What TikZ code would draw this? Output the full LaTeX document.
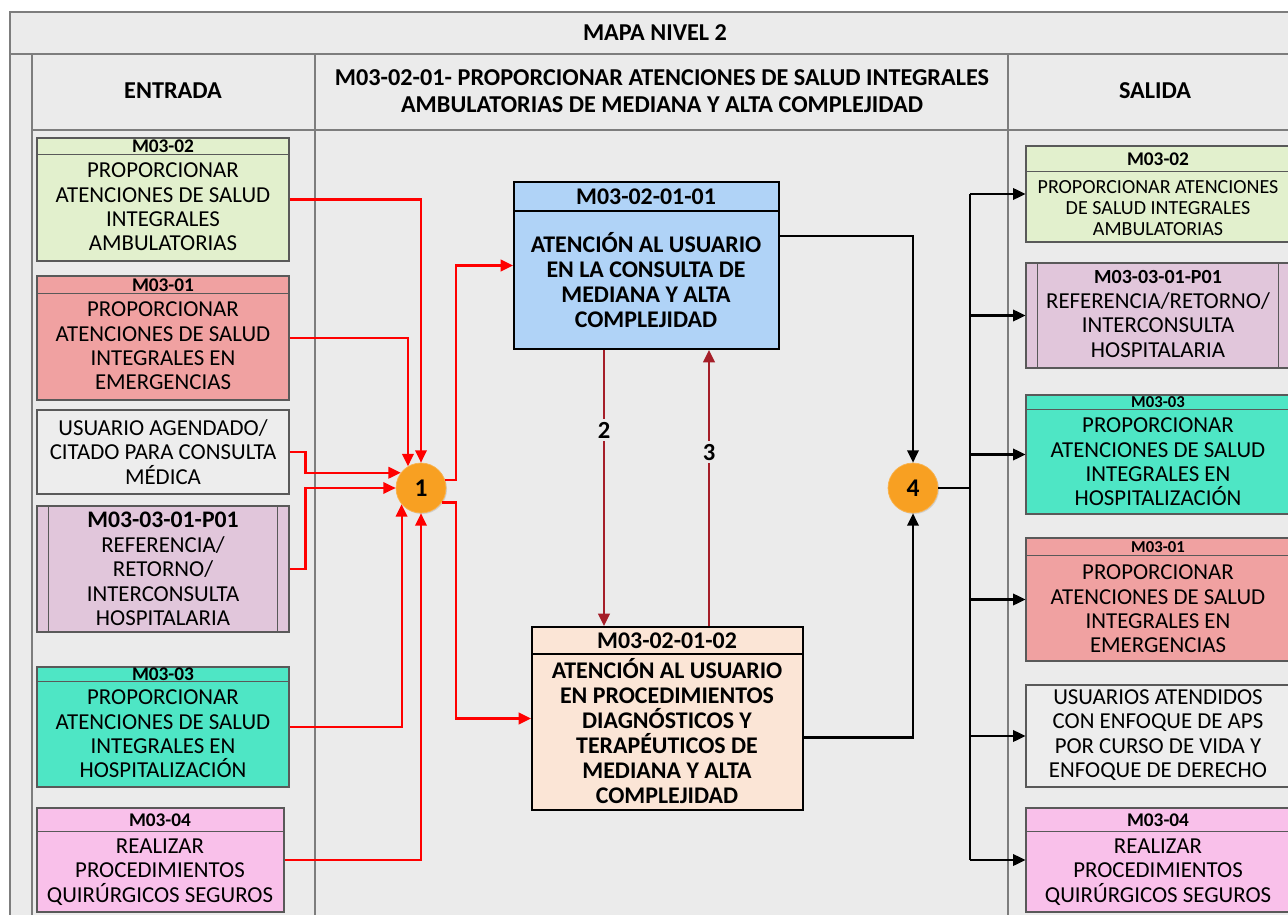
\documentclass[tikz,border=0pt]{standalone}
\usepackage{fontspec}
\setmainfont{Carlito}
\usetikzlibrary{arrows.meta,positioning,calc,fit,shadows}
\definecolor{bgray}{RGB}{235,235,235}
\definecolor{cframe}{RGB}{125,125,125}
\definecolor{cgreen}{RGB}{226,240,205}
\definecolor{cred}{RGB}{240,161,161}
\definecolor{cgrey}{RGB}{237,237,237}
\definecolor{cpurple}{RGB}{225,198,219}
\definecolor{cteal}{RGB}{78,230,197}
\definecolor{cpink}{RGB}{249,192,234}
\definecolor{cblue}{RGB}{176,211,247}
\definecolor{cpeach}{RGB}{251,229,214}
\definecolor{corange}{RGB}{248,160,34}
\definecolor{cbrown}{RGB}{165,30,40}
\tikzset{
  frame/.style = { draw=cframe, line width=0.6pt },
  box/.style   = { draw=black!65, line width=0.6pt, inner sep=0pt,
    drop shadow={shadow xshift=0.8pt,shadow yshift=-0.8pt,opacity=0.3} },
  pbox/.style  = { draw=black, line width=1.1pt, inner sep=0pt,
    drop shadow={shadow xshift=0.8pt,shadow yshift=-0.8pt,opacity=0.3} },
  sep/.style   = { draw=black!65, line width=0.6pt },
  title/.style = { align=center, inner sep=0pt, font=\fontsize{13.8}{15}\selectfont\bfseries },
  hdr/.style   = { inner sep=0pt, font=\fontsize{11}{12}\selectfont\bfseries },
  shdr/.style  = { inner sep=0pt, font=\fontsize{9.5}{10}\selectfont\bfseries },
  txt/.style   = { align=center, inner sep=0pt, font=\fontsize{13}{13.9}\selectfont },
  stxt/.style  = { align=center, inner sep=0pt, font=\fontsize{11.4}{12}\selectfont },
  btxt/.style  = { align=center, inner sep=0pt, font=\fontsize{13.6}{14.2}\selectfont\bfseries },
  junc/.style  = { circle, fill=corange, draw=corange!80!white, minimum size=1cm, inner sep=0pt,
    font=\fontsize{14.5}{14.5}\selectfont\bfseries,
    drop shadow={shadow xshift=0.6pt,shadow yshift=-0.6pt,opacity=0.25} },
  num/.style   = { fill=bgray, inner sep=1.5pt, font=\fontsize{14}{14}\selectfont\bfseries },
  rarr/.style  = { draw=red, line width=1.2pt, -{Triangle[length=7pt,width=6.5pt]} },
  barr/.style  = { draw=cbrown, line width=1.2pt, -{Triangle[length=7pt,width=6.5pt]} },
  karr/.style  = { draw=black, line width=1.2pt, -{Triangle[length=7pt,width=6.5pt]} },
  bus/.style   = { draw=black, line width=1.6pt }
}
\begin{document}
\begin{tikzpicture}[x=0.02cm,y=-0.02cm]
  \useasboundingbox (0,0) rectangle (1288,915);
  \clip (0,0) rectangle (1288,915);
  % tabla
  \draw[frame, fill=bgray] (10,12) rectangle (1310,940);
  \draw[frame] (10,54) -- (1310,54);
  \draw[frame, line width=1.2pt] (32,130) -- (1310,130);
  \draw[frame] (32,54) -- (32,940);
  \draw[frame] (315,54) -- (315,940);
  \draw[frame] (1008,54) -- (1008,940);
  \node[title] (mapa) at (655,33) {MAPA NIVEL 2};
  \node[title] (hin) at (173,91) {ENTRADA};
  \node[title] (hproc) at (662,91) {M03-02-01- PROPORCIONAR ATENCIONES DE SALUD INTEGRALES\\AMBULATORIAS DE MEDIANA Y ALTA COMPLEJIDAD};
  \node[title] (hout) at (1155,91) {SALIDA};

  % entradas
  \node[box, fill=cgreen, fit={(37,138) (289,261)}] (e1) {};
  \draw[sep] ($(e1.north west)+(0,17)$) -- ($(e1.north east)+(0,17)$);
  \node[hdr] at (163,146) {M03-02};
  \node[txt] at (163,207) {PROPORCIONAR\\ATENCIONES DE SALUD\\INTEGRALES\\AMBULATORIAS};

  \node[box, fill=cred, fit={(37,276) (289,400)}] (e2) {};
  \draw[sep] ($(e2.north west)+(0,18)$) -- ($(e2.north east)+(0,18)$);
  \node[hdr] at (163,285) {M03-01};
  \node[txt] at (163,346) {PROPORCIONAR\\ATENCIONES DE SALUD\\INTEGRALES EN\\EMERGENCIAS};

  \node[box, fill=cgrey, fit={(37,410) (289,494)}] (e3) {};
  \node[txt] at (163,452) {USUARIO AGENDADO/\\CITADO PARA CONSULTA\\MÉDICA};

  \node[box, fill=cpurple, fit={(37,506) (289,632)}] (e4) {};
  \draw[sep] ($(e4.north west)+(12,0)$) -- ($(e4.south west)+(12,0)$);
  \draw[sep] ($(e4.north east)+(-12,0)$) -- ($(e4.south east)+(-12,0)$);
  \node[txt] at (163,569) {{\fontsize{13.5}{13.9}\selectfont\bfseries M03-03-01-P01}\\REFERENCIA/\\RETORNO/\\INTERCONSULTA\\HOSPITALARIA};

  \node[box, fill=cteal, fit={(37,667) (289,787)}] (e5) {};
  \draw[sep] ($(e5.north west)+(0,15)$) -- ($(e5.north east)+(0,15)$);
  \node[hdr] at (163,674) {M03-03};
  \node[txt] at (163,734) {PROPORCIONAR\\ATENCIONES DE SALUD\\INTEGRALES EN\\HOSPITALIZACIÓN};

  \node[box, fill=cpink, fit={(37,808) (284,912)}] (e6) {};
  \draw[sep] ($(e6.north west)+(0,24)$) -- ($(e6.north east)+(0,24)$);
  \node[hdr] at (160,820) {M03-04};
  \node[txt] at (160,872) {REALIZAR\\PROCEDIMIENTOS\\QUIRÚRGICOS SEGUROS};

  % subprocesos
  \node[pbox, fill=cblue, fit={(514,182) (779,349)}] (A) {};
  \draw[black, line width=1.1pt] ($(A.north west)+(0,30)$) -- ($(A.north east)+(0,30)$);
  \node[btxt] at (646,197) {M03-02-01-01};
  \node[btxt] at (646,280) {ATENCIÓN AL USUARIO\\EN LA CONSULTA DE\\MEDIANA Y ALTA\\COMPLEJIDAD};

  \node[pbox, fill=cpeach, fit={(532,627) (803,810)}] (B) {};
  \draw[black, line width=1.1pt] ($(B.north west)+(0,28)$) -- ($(B.north east)+(0,28)$);
  \node[btxt] at (667,641) {M03-02-01-02};
  \node[btxt] at (667,731) {ATENCIÓN AL USUARIO\\EN PROCEDIMIENTOS\\DIAGNÓSTICOS Y\\TERAPÉUTICOS DE\\MEDIANA Y ALTA\\COMPLEJIDAD};

  \node[junc] (c1) at (421,488) {1};
  \node[junc] (c4) at (913,488) {4};

  % salidas
  \node[box, fill=cgreen, fit={(1026,146) (1290,242)}] (s1) {};
  \draw[sep] ($(s1.north west)+(0,26)$) -- ($(s1.north east)+(0,26)$);
  \node[hdr] at (1158,159) {M03-02};
  \node[stxt] at (1158,208) {PROPORCIONAR ATENCIONES\\DE SALUD INTEGRALES\\AMBULATORIAS};

  \node[box, fill=cpurple, fit={(1026,263) (1290,368)}] (s2) {};
  \draw[sep] ($(s2.north west)+(12,0)$) -- ($(s2.south west)+(12,0)$);
  \draw[sep] ($(s2.north east)+(-12,0)$) -- ($(s2.south east)+(-12,0)$);
  \node[txt] at (1158,314) {{\fontsize{11.4}{13.9}\selectfont\bfseries M03-03-01-P01}\\REFERENCIA/RETORNO/\\INTERCONSULTA\\HOSPITALARIA};

  \node[box, fill=cteal, fit={(1026,395) (1290,514)}] (s3) {};
  \draw[sep] ($(s3.north west)+(0,15)$) -- ($(s3.north east)+(0,15)$);
  \node[shdr] at (1158,402) {M03-03};
  \node[txt] at (1158,462) {PROPORCIONAR\\ATENCIONES DE SALUD\\INTEGRALES EN\\HOSPITALIZACIÓN};

  \node[box, fill=cred, fit={(1026,538) (1290,661)}] (s4) {};
  \draw[sep] ($(s4.north west)+(0,18)$) -- ($(s4.north east)+(0,18)$);
  \node[shdr] at (1158,547) {M03-01};
  \node[txt] at (1158,609) {PROPORCIONAR\\ATENCIONES DE SALUD\\INTEGRALES EN\\EMERGENCIAS};

  \node[box, fill=cgrey, fit={(1026,685) (1290,787)}] (s5) {};
  \node[txt] at (1158,735) {USUARIOS ATENDIDOS\\CON ENFOQUE DE APS\\POR CURSO DE VIDA Y\\ENFOQUE DE DERECHO};

  \node[box, fill=cpink, fit={(1026,808) (1290,912)}] (s6) {};
  \draw[sep] ($(s6.north west)+(0,24)$) -- ($(s6.north east)+(0,24)$);
  \node[hdr] at (1158,820) {M03-04};
  \node[txt] at (1158,872) {REALIZAR\\PROCEDIMIENTOS\\QUIRÚRGICOS SEGUROS};

  % flechas de entrada
  \draw[rarr] (e1.east) -| (c1.north);
  \draw[rarr] (e2.east) -| (c1.121);
  \draw[rarr] (e3.east) -- ++(16,0) |- (c1.143);
  \draw[rarr] (e4.east) -- ++(16,0) |- (c1.west);
  \draw[rarr] (e5.east) -| (c1.220);
  \draw[rarr] (e6.east) -| (c1.south);

  \coordinate (j1) at (456,488);
  \draw[rarr] (c1.19) -- (c1.19 -| j1) |- (A.west);
  \draw[rarr] (c1.-35) -- (c1.-35 -| j1) |- (B.west);

  \coordinate (k2) at (604,0);
  \coordinate (k3) at (709,0);
  \draw[barr] (A.south -| k2) -- node[num, pos=0.29] {2} (B.north -| k2);
  \draw[barr] (B.north -| k3) -- node[num, pos=0.63] {3} (A.south -| k3);

  % flechas de salida
  \draw[karr] ($(A.north east)+(0,55)$) -| (c4.north);
  \draw[karr] ($(B.east)+(0,19)$) -| (c4.south);
  \coordinate (bus) at (970,488);
  \draw[bus] (c4.east) -- (bus);
  \draw[bus] (s1.west -| bus) -- (s6.west -| bus);
  \foreach \s in {s1,s2,s3,s4,s5,s6}
    \draw[karr] (\s.west -| bus) -- (\s.west);
\end{tikzpicture}
\end{document}
